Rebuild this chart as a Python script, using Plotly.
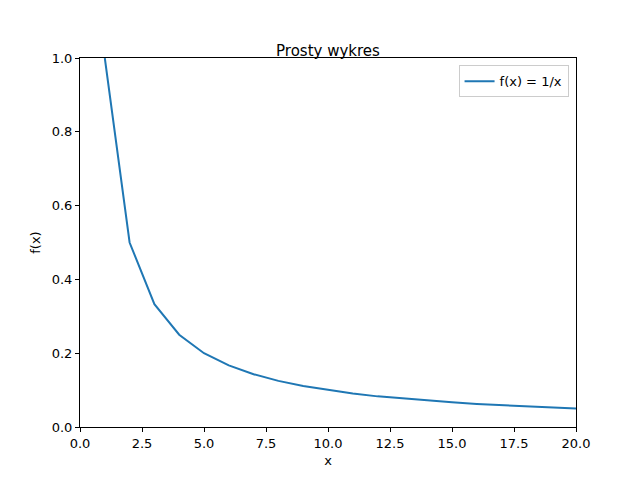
import plotly.graph_objects as go

x = [1, 2, 3, 4, 5, 6, 7, 8, 9, 10, 11, 12, 13, 14, 15, 16, 17, 18, 19, 20]
y = [1.0, 0.5, 0.333, 0.25, 0.2, 0.167, 0.143, 0.125, 0.111, 0.1,
     0.091, 0.083, 0.077, 0.071, 0.067, 0.0625, 0.059, 0.056, 0.053, 0.05]
xticks = [0, 2.5, 5, 7.5, 10, 12.5, 15, 17.5, 20]
xtick_text = ["0.0", "2.5", "5.0", "7.5", "10.0", "12.5", "15.0", "17.5", "20.0"]
yticks = [0, 0.2, 0.4, 0.6, 0.8, 1.0]
ytick_text = ["0.0", "0.2", "0.4", "0.6", "0.8", "1.0"]

fig = go.Figure(go.Scatter(x=x, y=y, mode="lines", name="f(x) = 1/x",
                           line=dict(color="#1f77b4", width=2)))

axis = dict(showgrid=False, zeroline=False, showline=True, mirror=True,
            linecolor="black", linewidth=1, ticks="outside", ticklen=4,
            tickcolor="black", tickfont=dict(size=13, color="black"))
fig.update_xaxes(range=[0, 20], tickvals=xticks, ticktext=xtick_text,
                 title=dict(text="x", font=dict(size=13), standoff=6), **axis)
fig.update_yaxes(range=[0, 1], tickvals=yticks, ticktext=ytick_text,
                 title=dict(text="f(x)", font=dict(size=13), standoff=8), **axis)

fig.update_layout(
    width=640, height=480,
    margin=dict(l=72, r=72, t=50, b=61),
    plot_bgcolor="white", paper_bgcolor="white",
    font=dict(family="DejaVu Sans", color="black"),
    title=dict(text="Prosty wykres", x=0.5, xanchor="center", y=0.9,
               yanchor="bottom", font=dict(size=15)),
    showlegend=True,
    legend=dict(x=0.985, y=0.98, xanchor="right", yanchor="top",
                bordercolor="#cccccc", borderwidth=1, bgcolor="white",
                font=dict(size=13), tracegroupgap=0),
)

fig.write_html("out.html")
